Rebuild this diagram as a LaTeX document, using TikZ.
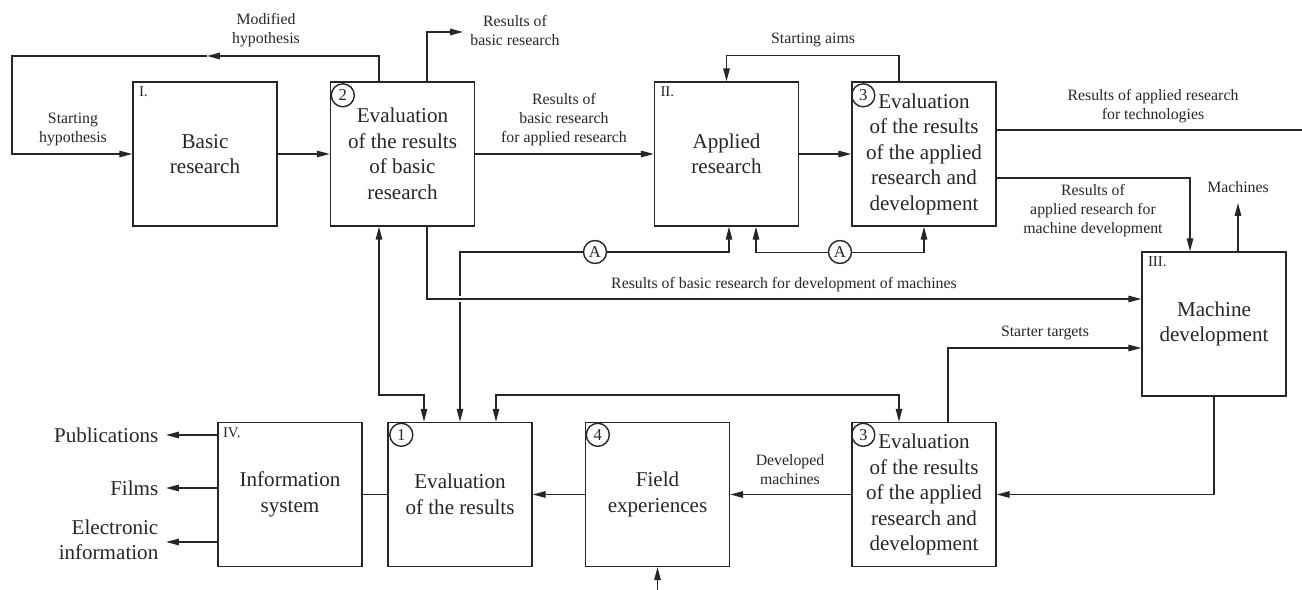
\documentclass[tikz,border=0pt]{standalone}
\usepackage{fontspec}
\setmainfont{Liberation Serif}
\usetikzlibrary{calc, arrows.meta}

\begin{document}
\begin{tikzpicture}[x=0.02cm, y=-0.02cm, line width=0.8pt, color=black!85,
        box/.style={draw, minimum width=2.88cm, minimum height=2.88cm, inner sep=0pt, align=center, font=\fontsize{12}{14.5}\selectfont},
        lbl/.style={align=center, inner sep=0pt, font=\fontsize{9}{10.8}\selectfont},
        outlbl/.style={align=right, anchor=east, inner sep=0pt, font=\fontsize{12}{14.5}\selectfont},
        roman/.style={anchor=north west, inner sep=0pt, font=\fontsize{8.5}{10}\selectfont},
        num/.style={draw, circle, inner sep=0pt, minimum size=0.46cm, font=\fontsize{9.5}{9.5}\selectfont},
        anode/.style={num, fill=white},
        tip/.style={arrows={-{Triangle[length=2.6mm, width=1.3mm]}}},
        tips/.style={arrows={{Triangle[length=2.6mm, width=1.3mm]}-{Triangle[length=2.6mm, width=1.3mm]}}}]
        \useasboundingbox (0, 0) rectangle (1302, 590);
        \node [box] (basic) at (205, 154) {Basic\\research};
        \node [box] (evbasic) at (402.5, 154) {Evaluation\\of the results\\of basic\\research};
        \node [box] (applied) at (726.5, 154) {Applied\\research};
        \node [box] (evapp) at (924, 154) {Evaluation\\of the results\\of the applied\\research and\\development};
        \node [box] (machine) at (1214, 324) {Machine\\development};
        \node [box] (info) at (290, 494.5) {Information\\system};
        \node [box] (evres) at (460, 494.5) {Evaluation\\of the results};
        \node [box] (field) at (657.5, 494.5) {Field\\experiences};
        \node [box] (evdev) at (924, 494.5) {Evaluation\\of the results\\of the applied\\research and\\development};
        \node [roman] (rI) at ($(basic.north west)+(6, 5)$) {I.};
        \node [roman] (rII) at ($(applied.north west)+(6, 5)$) {II.};
        \node [roman] (rIII) at ($(machine.north west)+(6, 5)$) {III.};
        \node [roman] (rIV) at ($(info.north west)+(5, 5)$) {IV.};
        \node [num] (n2) at ($(evbasic.north west)+(13, 14)$) {2};
        \node [num] (n3a) at ($(evapp.north west)+(12, 14)$) {3};
        \node [num] (n1) at ($(evres.north west)+(14, 13)$) {1};
        \node [num] (n4) at ($(field.north west)+(13, 13)$) {4};
        \node [num] (n3b) at ($(evdev.north west)+(12, 13)$) {3};
        \coordinate (hyp) at (12, 56);
        \coordinate (modtip) at (207, 56);
        \coordinate (resbasic) at (463, 32);
        \coordinate (tech) at (1302, 130);
        \coordinate (machout) at (1238, 203);
        \coordinate (aleft) at (460, 252);
        \coordinate (fieldin) at (657.5, 590);
        \coordinate (pub) at (166, 435);
        \coordinate (films) at (166, 488);
        \coordinate (elec) at (166, 542);
        \draw [tip] ($(evbasic.north)+(-23.5, 0)$) |- (modtip);
        \draw [tip] (modtip) -- (hyp) |- (basic.west);
        \draw [tip] (basic) -- (evbasic);
        \draw [tip] ($(evbasic.north)+(24.5, 0)$) |- (resbasic);
        \draw [tip] (evbasic) -- (applied);
        \draw [tip] ($(evapp.north)+(-25, 0)$) -- ++(0, -26) -| (applied.north);
        \draw [tip] (applied) -- (evapp);
        \draw ($(evapp.east)+(0, -24)$) -- (tech);
        \draw [tip] ($(evapp.east)+(0, 24)$) -| ($(machine.north)+(-24, 0)$);
        \draw [tip] ($(machine.north)+(24, 0)$) -- (machout);
        \draw [tips] ($(applied.south)+(2.5, 0)$) |- (aleft) -- (evres.north);
        \draw [tips] ($(applied.south)+(29.5, 0)$) |- ($(evapp.south)+(0, 26)$) -- (evapp.south);
        \node [anode] (a1) at (595, 252) {A};
        \node [anode] (a2) at (840, 252) {A};
        \draw [tip, preaction={draw=white, line width=3pt, arrows=-, shorten <=10pt, shorten >=10pt}]
            ($(evbasic.south)+(24.5, 0)$) |- ($(machine.west)+(0, -25)$);
        \draw [tips] ($(evbasic.south)+(-23.5, 0)$) |- ($(evres.north)+(-36, -27)$) -- ($(evres.north)+(-36, 0)$);
        \draw [tips] ($(evres.north)+(36, 0)$) |- ($(evdev.north)+(-25, -27)$) -- ($(evdev.north)+(-25, 0)$);
        \draw [tip] ($(evdev.north)+(24, 0)$) |- ($(machine.west)+(0, 24)$);
        \draw [tip] (machine.south) |- (evdev.east);
        \draw [tip] (evdev) -- (field);
        \draw [tip] (field) -- (evres);
        \draw (info) -- (evres);
        \draw [tip] (fieldin) -- (field.south);
        \draw [tip] (info.west |- pub) -- (pub);
        \draw [tip] (info.west |- films) -- (films);
        \draw [tip] (info.west |- elec) -- (elec);
        \node [lbl] (lmod) at (266, 30.5) {Modified\\hypothesis};
        \node [lbl] (lstart) at (73, 129.5) {Starting\\hypothesis};
        \node [lbl] (lresb) at (515, 30.5) {Results of\\basic research};
        \node [lbl] (lresapp) at (564, 119.5) {Results of\\basic research\\for applied research};
        \node [lbl] (laims) at (813, 40) {Starting aims};
        \node [lbl] (ltech) at (1153, 106) {Results of applied research\\for technologies};
        \node [lbl] (lmachdev) at (1093, 211) {Results of\\applied research for\\machine development};
        \node [lbl] (lmach) at (1238, 187) {Machines};
        \node [lbl] (ldevm) at (784, 285) {Results of basic research for development of machines};
        \node [lbl] (lstarter) at (1045, 333) {Starter targets};
        \node [lbl] (ldeveloped) at (790, 470) {Developed\\machines};
        \node [outlbl] (lpub) at (159, 435) {Publications};
        \node [outlbl] (lfilms) at (159, 488) {Films};
        \node [outlbl] (lelec) at (159, 540) {Electronic\\information};
    \end{tikzpicture}
\end{document}
